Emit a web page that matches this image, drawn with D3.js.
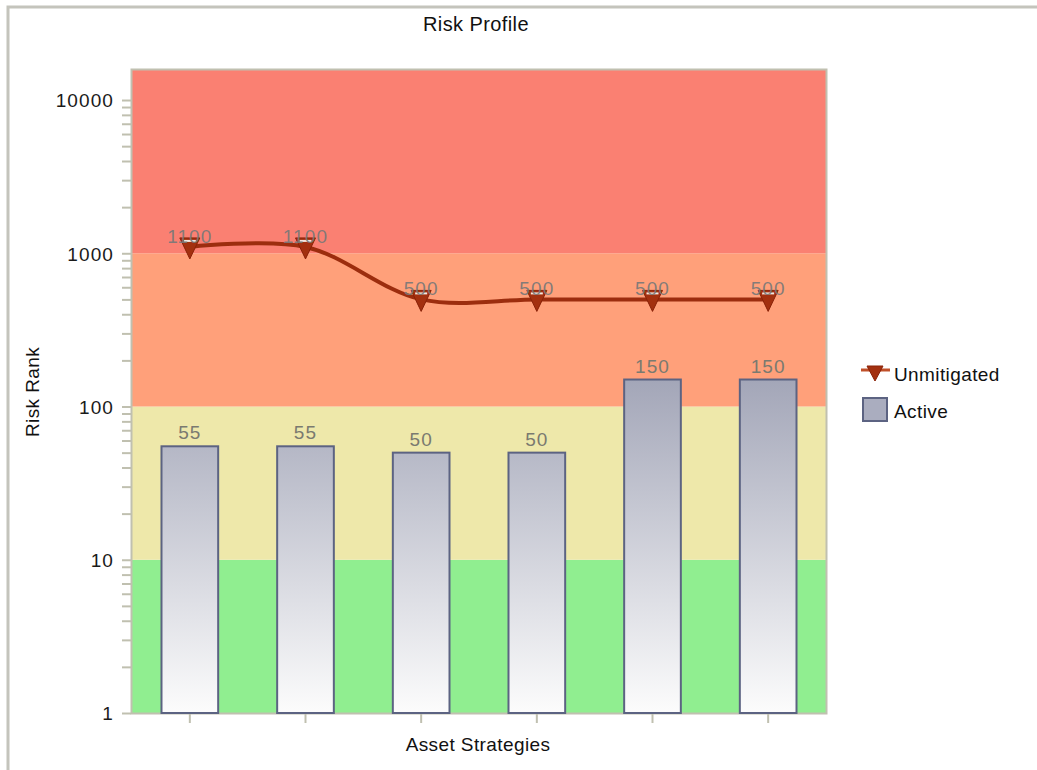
<!DOCTYPE html>
<html>
<head>
<meta charset="utf-8">
<script src="https://cdn.jsdelivr.net/npm/d3@7"></script>
<style>
  html, body { margin: 0; padding: 0; background: #fff; }
  svg { display: block; }
  text { font-family: "Liberation Sans", Arial, sans-serif; }
</style>
</head>
<body>
<svg id="chart" width="1037" height="770"></svg>
<script>
// ---- data ----
const categories = ["Strategy 1", "Strategy 2", "Strategy 3", "Strategy 4", "Strategy 5", "Strategy 6"];
const activeValues = [55, 55, 50, 50, 150, 150];
const unmitigatedValues = [1100, 1100, 500, 500, 500, 500];
const yTickValues = [1, 10, 100, 1000, 10000];
const yMax = 15700;
const bandEdges = [1, 10, 100, 1000, yMax];
const bandColors = ["#90ee90", "#eee8aa", "#ffa07a", "#fa8072"];
const seriesNames = ["Unmitigated", "Active"];

// ---- layout ----
const svg = d3.select("#chart");
const plot = { left: 132, right: 826, top: 70, bottom: 713 };
const font = "19px";
const letterSp = "0.4px";
const numSp = "1.1px";

// outer frame
svg.append("path")
  .attr("d", "M8,770 L8,7 L1037,7")
  .attr("fill", "none").attr("stroke", "#c4c4bc").attr("stroke-width", 3);

const x = d3.scaleBand().domain(categories).range([plot.left, plot.right]);
const y = d3.scaleLog().domain([1, yMax]).range([plot.bottom, plot.top]);

// bands
svg.append("g").selectAll("rect").data(bandColors).join("rect")
  .attr("x", plot.left).attr("width", plot.right - plot.left)
  .attr("y", (d, i) => y(bandEdges[i + 1]))
  .attr("height", (d, i) => y(bandEdges[i]) - y(bandEdges[i + 1]))
  .attr("fill", d => d);

// plot border
svg.append("rect")
  .attr("x", plot.left - 0.5).attr("y", plot.top - 0.5)
  .attr("width", plot.right - plot.left + 1).attr("height", plot.bottom - plot.top + 1)
  .attr("fill", "none").attr("stroke", "#c0c0b0").attr("stroke-width", 2);

// y axis (log ticks incl. minor)
const minorTicks = [];
for (let e = 0; e < 5; e++) for (let m = 1; m <= 9; m++) {
  const v = m * Math.pow(10, e);
  if (v <= yMax) minorTicks.push(v);
}
const yAxis = d3.axisLeft(y).tickValues(minorTicks)
  .tickSize(9).tickPadding(8)
  .tickFormat(d => yTickValues.includes(d) ? String(d) : "");
const gy = svg.append("g").attr("transform", `translate(${plot.left - 1},0)`).call(yAxis);
gy.select(".domain").remove();
gy.selectAll(".tick line").attr("stroke", "#c0c0b0").attr("stroke-width", 2);
gy.selectAll(".tick text").attr("fill", "#1a1a1a").style("font-size", font)
  .style("letter-spacing", numSp).attr("dy", "0.36em");

// x axis
const xAxis = d3.axisBottom(x).tickSize(9).tickFormat("");
const gx = svg.append("g").attr("transform", `translate(0,${plot.bottom + 1})`).call(xAxis);
gx.select(".domain").remove();
gx.selectAll(".tick line").attr("stroke", "#c0c0b0").attr("stroke-width", 2);

// gradient for bars (shared across bars, in user space)
const defs = svg.append("defs");
const grad = defs.append("linearGradient").attr("id", "barGrad")
  .attr("gradientUnits", "userSpaceOnUse")
  .attr("x1", 0).attr("y1", y(d3.max(activeValues))).attr("x2", 0).attr("y2", y(1));
grad.append("stop").attr("offset", "0%").attr("stop-color", "#a3a6b8");
grad.append("stop").attr("offset", "100%").attr("stop-color", "#fcfcfc");

// bars
const barW = x.bandwidth() * 0.49;
const bars = svg.append("g");
bars.selectAll("rect").data(activeValues).join("rect")
  .attr("x", (d, i) => x(categories[i]) + (x.bandwidth() - barW) / 2)
  .attr("y", d => y(d))
  .attr("width", barW)
  .attr("height", d => y(1) - y(d))
  .attr("fill", "url(#barGrad)")
  .attr("stroke", "#5c6382").attr("stroke-width", 2);
bars.selectAll("text").data(activeValues).join("text")
  .attr("x", (d, i) => x(categories[i]) + x.bandwidth() / 2)
  .attr("y", d => y(d) - 7)
  .attr("text-anchor", "middle")
  .attr("fill", "#7a7a70").style("font-size", font).style("letter-spacing", numSp)
  .text(d => d);

// line
const cx = (i) => x(categories[i]) + x.bandwidth() / 2;
const line = d3.line().x((d, i) => cx(i)).y(d => y(d)).curve(d3.curveCatmullRom.alpha(0.5));
svg.append("path").datum(unmitigatedValues)
  .attr("d", line).attr("fill", "none")
  .attr("stroke", "#9c2d0e").attr("stroke-width", 4);

const tri = (px, py) => `M${px - 10},${py - 9} L${px + 10},${py - 9} L${px},${py + 12} Z`;
const markers = svg.append("g");
markers.selectAll("path").data(unmitigatedValues).join("path")
  .attr("d", (d, i) => tri(cx(i), y(d)))
  .attr("fill", "#a3300f").attr("stroke", "#8a2208").attr("stroke-width", 1);
markers.selectAll("line").data(unmitigatedValues).join("line")
  .attr("x1", (d, i) => cx(i) - 6).attr("x2", (d, i) => cx(i) + 6)
  .attr("y1", d => y(d) - 6).attr("y2", d => y(d) - 6)
  .attr("stroke", "#f4e8e0").attr("stroke-width", 2);
markers.selectAll("text").data(unmitigatedValues).join("text")
  .attr("x", (d, i) => cx(i))
  .attr("y", d => y(d) - 4)
  .attr("text-anchor", "middle")
  .attr("fill", "#787878").attr("fill-opacity", 0.92)
  .style("font-size", font).style("letter-spacing", numSp)
  .text(d => d);

// title and axis labels
svg.append("text").attr("x", 476).attr("y", 31).attr("text-anchor", "middle")
  .attr("fill", "#111").style("font-size", "20px").style("letter-spacing", letterSp)
  .text("Risk Profile");
svg.append("text").attr("transform", "translate(39,392) rotate(-90)").attr("text-anchor", "middle")
  .attr("fill", "#111").style("font-size", font).style("letter-spacing", letterSp)
  .text("Risk Rank");
svg.append("text").attr("x", 478).attr("y", 751).attr("text-anchor", "middle")
  .attr("fill", "#111").style("font-size", font).style("letter-spacing", letterSp)
  .text("Asset Strategies");

// legend
const lg = svg.append("g");
lg.append("line").attr("x1", 861).attr("x2", 890).attr("y1", 370).attr("y2", 370)
  .attr("stroke", "#c0502a").attr("stroke-width", 3);
lg.append("path").attr("d", `M867,366 L883,366 L875,381 Z`)
  .attr("fill", "#a3300f").attr("stroke", "#8a2208").attr("stroke-width", 1);
lg.append("text").attr("x", 894).attr("y", 381).attr("fill", "#111")
  .style("font-size", font).style("letter-spacing", letterSp).text(seriesNames[0]);
lg.append("rect").attr("x", 863).attr("y", 398).attr("width", 24).attr("height", 23)
  .attr("fill", "#aaadbf").attr("stroke", "#5c6382").attr("stroke-width", 2);
lg.append("text").attr("x", 894).attr("y", 418).attr("fill", "#111")
  .style("font-size", font).style("letter-spacing", letterSp).text(seriesNames[1]);
</script>
</body>
</html>
